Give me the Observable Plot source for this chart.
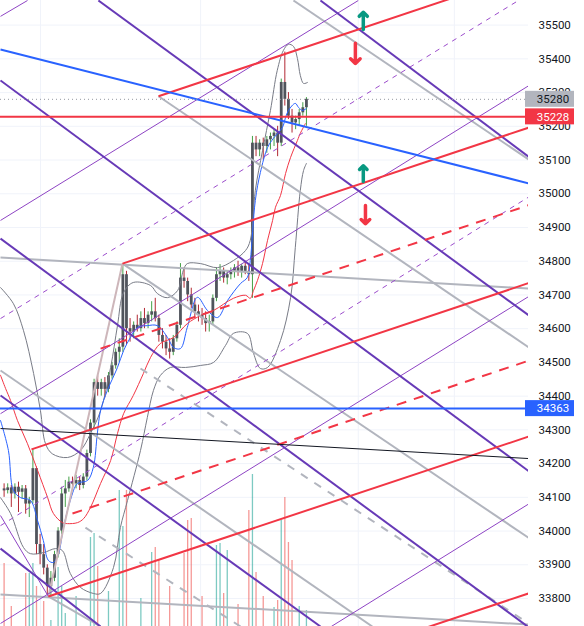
<!DOCTYPE html>
<html><head><meta charset="utf-8">
<script src="https://cdn.jsdelivr.net/npm/d3@7"></script>
<script src="https://cdn.jsdelivr.net/npm/@observablehq/plot@0.6"></script>
<style>body{margin:0;background:#fff;overflow:hidden} #chart svg{display:block}</style>
</head><body><div id="chart"></div>
<script>
// ---------- candles (bar index i -> x = i + 1) ----------
const open  = [34125,34120,34128,34110,34130,34115,34125,34080,34090,34185,33960,33930,33890,33835,33860,33930,34000,34110,34125,34145,34140,34150,34135,34160,34230,34320,34440,34420,34440,34420,34460,34490,34530,34545,34760,34600,34590,34610,34600,34630,34615,34640,34650,34630,34580,34560,34540,34530,34570,34610,34750,34740,34700,34670,34650,34640,34630,34615,34620,34690,34760,34770,34750,34760,34770,34780,34770,34785,34770,34760,35150,35130,35150,35140,35160,35170,35180,35150,35330,35280,35230,35210,35220,35240,35255];
const high  = [34140,34140,34135,34140,34145,34135,34135,34100,34242,34190,33990,33960,33900,33880,33940,34010,34130,34150,34160,34160,34165,34160,34170,34240,34330,34450,34460,34450,34455,34470,34500,34540,34570,34793,34770,34630,34620,34640,34650,34660,34650,34680,34690,34640,34600,34580,34570,34580,34620,34793,34780,34750,34720,34690,34670,34660,34650,34640,34700,34780,34790,34780,34770,34780,34790,34800,34790,34800,34790,35170,35170,35160,35165,35170,35180,35190,35200,35340,35420,35300,35250,35230,35250,35270,35285];
const low   = [34100,34110,34070,34095,34055,34095,34050,34040,34080,33930,33900,33870,33810,33800,33850,33920,33990,34070,34115,34130,34125,34120,34125,34150,34220,34300,34400,34400,34395,34410,34450,34480,34500,34530,34550,34560,34570,34590,34590,34600,34600,34620,34620,34560,34540,34520,34510,34520,34560,34600,34720,34680,34660,34630,34620,34610,34590,34590,34610,34680,34740,34735,34730,34745,34750,34755,34750,34760,34740,34690,35110,35110,35100,35120,35130,35140,35110,35140,35260,35220,35180,35190,35200,35230,35200];
const close = [34120,34128,34110,34130,34115,34125,34080,34090,34185,33960,33930,33890,33835,33860,33930,34000,34110,34125,34145,34140,34150,34135,34160,34230,34320,34440,34420,34440,34420,34460,34490,34530,34545,34760,34600,34590,34610,34600,34630,34615,34640,34650,34630,34580,34560,34540,34530,34570,34610,34750,34740,34700,34670,34650,34640,34630,34615,34620,34690,34760,34770,34750,34760,34770,34780,34770,34785,34770,34760,35150,35130,35150,35140,35160,35170,35180,35150,35330,35280,35230,35210,35220,35240,35255,35280];
// volume (relative units), sparse: [bar index, volume]
const volume = [[0,63],[2,20],[6,53],[7,53],[8,63],[9,40],[11,25],[13,6],[15,59],[16,40],[17,13],[20,30],[24,89],[25,93],[26,60],[29,35],[32,136],[33,100],[34,136],[38,28],[41,74],[42,79],[43,66],[46,40],[50,73],[51,106],[52,108],[55,30],[59,81],[60,83],[61,33],[62,76],[65,22],[68,116],[69,152],[70,54],[72,30],[75,19],[76,26],[77,106],[78,129],[79,84],[80,66],[82,20],[84,16]];

// ---------- indicators: [bar, price] ----------
const bbUpper = [[0,34722],[3.6,34674],[6.4,34594],[9.2,34467],[11.1,34357],[12.5,34259],[14.4,34229],[18.6,34218],[22.2,34239],[25,34289],[27.8,34357],[30.6,34485],[32.5,34609],[34.2,34707],[36.9,34737],[41.7,34728],[43.6,34704],[46.4,34692],[49.2,34713],[50.8,34773],[51.9,34793],[55.6,34793],[60.3,34781],[64.7,34802],[68.1,34832],[69.4,34862],[70.8,35010],[72.8,35128],[75,35247],[76.9,35366],[78.6,35425],[80,35443],[81.4,35437],[82.5,35401],[83.3,35351],[84.2,35327],[85.3,35330]];
const bbLower = [[0,34099],[2.8,34052],[6.4,33951],[8.3,33933],[11.9,33936],[15.3,33948],[17.2,33942],[19.4,33874],[22.2,33833],[25.8,33815],[27.8,33815],[31.4,33892],[33.3,34010],[35.3,34091],[38.9,34239],[40.8,34337],[42.5,34417],[44.4,34461],[47.2,34485],[51.4,34485],[55.6,34491],[59.2,34500],[62.5,34550],[64.7,34586],[68.6,34586],[70.3,34527],[72.2,34482],[74.2,34485],[77.8,34565],[80.6,34692],[81.9,34840],[83.3,35010],[84.2,35069],[85,35090]];
const maFast = [[0,34328],[2.2,34239],[3.6,34120],[5.6,34099],[8.3,34091],[10.3,34031],[11.9,33972],[13.3,33913],[14.7,33907],[16.1,33933],[17.5,34010],[19.4,34091],[21.4,34141],[24.2,34150],[25.8,34189],[26.9,34289],[27.8,34357],[29.7,34417],[32.5,34485],[34.2,34535],[36.1,34574],[38.1,34604],[40.8,34609],[43.6,34609],[46.4,34574],[48.1,34544],[50,34541],[51.9,34604],[54.7,34693],[57.5,34654],[60.3,34633],[63.1,34684],[66.7,34734],[68.6,34752],[69.4,34802],[70.8,34980],[72.2,35063],[74.2,35137],[75.8,35164],[78.3,35196],[79.2,35226],[80,35247],[81.9,35268],[82.8,35256],[83.9,35247],[85,35253]];
const maSlow = [[0,34462],[1.4,34423],[2.8,34387],[4.7,34328],[7.5,34259],[10.3,34180],[13.1,34099],[14.7,34052],[17.2,34025],[18.6,34022],[21.4,34025],[23.1,34037],[25,34070],[27.8,34141],[30.6,34209],[32.5,34289],[34.2,34348],[36.9,34402],[39.7,34467],[41.7,34515],[44.4,34556],[48.1,34574],[51.9,34615],[55.6,34639],[59.2,34654],[64.7,34690],[68.1,34699],[69.4,34690],[70.3,34713],[71.4,34743],[72.8,34793],[74.2,34862],[75.6,34921],[76.4,34960],[77.8,34995],[79.2,35060],[80.6,35108],[82.5,35158],[83.3,35179],[84.7,35208]];

// ---------- drawings: [x1, price1, x2, price2] ----------
const redSolid = [[43.9,35289,146.7,35656],[33.9,34793,146.7,35196],[8.6,34242,146.7,34735],[13.3,33806,146.7,34280],[111.1,33688,146.7,33815]];
const redDashed = [[27.8,34541,146.7,34966],[20,34052,146.7,34505]];
const purpleThick = [[88.9,35573,146.7,35110],[27.2,35573,146.7,34640],[0,35336,146.7,34178],[0,34867,146.7,33715],[0,34402,88.9,33717],[0,33948,27.8,33717]];
const purpleThin = [[0,35526,7.5,35573],[0,34921,99.4,35573],[0,34348,146.7,35320],[0,33726,146.7,34695],[91.9,33717,146.7,34080],[0,34046,13.3,33806]];
const purpleDashed = [[0,34630,143.9,35573],[0,34016,146.7,34990]];
const grayThick = [[81.4,35573,146.7,35102],[43.9,35289,146.7,34545],[33.9,34793,146.7,33980],[0,34476,103.3,33717],[0,34811,146.7,34719],[0,33812,146.7,33723],[13.3,33806,27.8,33717]];
const grayDashed = [[38.9,34482,146.7,33726],[23.6,34010,66.7,33717]];
const handle = [[13.3,33806,33.9,34793]];
const blueTrend = [[0,35428,146.7,35031]];
const blackTrend = [[0,34304,146.7,34215]];
const hLevels = [{price:35228, color:"#f23645"},{price:34363, color:"#2962ff"}];
const lastPrice = 35280;
// arrows: [x, fromPrice, toPrice, color]
const arrows = [[100.8,35487,35538,"#089981"],[98.6,35446,35386,"#f23645"],[100.8,35036,35083,"#089981"],[101.4,34965,34911,"#f23645"]];
// price tags on the axis
const tags = [{price:35280,label:"35280",bg:"#b2b5be",fg:"#131722"},{price:35228,label:"35228",bg:"#f23645",fg:"#ffffff"},{price:34363,label:"34363",bg:"#2962ff",fg:"#ffffff"}];
const yTicks = d3.range(33800, 35501, 100);
const vGrid = [11.1, 55.6, 99.4, 126.1];

const XMAX = 146.7, YMIN = 33717, YMAX = 35573;
const candles = open.map((o,i)=>({x:i+1,o,h:high[i],l:low[i],c:close[i],up:close[i]>=o}));
const PX = (YMAX-YMIN)/626; // price per pixel (for volume pane)
const vols = volume.map(([i,v])=>({x:i+1, v, up: close[i]>=open[i]}));

const seg = (data, stroke, strokeWidth, dash) => Plot.link(data, {x1:d=>d[0], y1:d=>d[1], x2:d=>d[2], y2:d=>d[3], stroke, strokeWidth, strokeDasharray: dash, clip:true});

const chart = Plot.plot({
  width: 584, height: 626,
  marginLeft: 0, marginTop: 0, marginBottom: 0, marginRight: 56,
  x: {domain:[0, XMAX], axis: null},
  y: {domain:[YMIN, YMAX], axis: null},
  style: {fontFamily: "Roboto, 'Liberation Sans', sans-serif", fontSize: "11.5px", background: "#ffffff"},
  marks: [
    Plot.ruleY(yTicks, {stroke:"#f0f3fa", strokeWidth:1}),
    Plot.ruleX(vGrid, {stroke:"#f0f3fa", strokeWidth:1}),
    // volume
    Plot.ruleX(vols, {x:"x", y1: ()=>YMIN, y2: d=>YMIN + d.v*PX, stroke: d=>d.up ? "rgba(38,166,154,0.6)" : "rgba(239,83,80,0.6)", strokeWidth:1.3, clip:true}),
    // candles
    Plot.ruleX(candles, {x:"x", y1:"l", y2:"h", stroke:d=>d.up?"#43a047":"#b22833", strokeWidth:1}),
    Plot.ruleX(candles, {x:"x", y1:"o", y2:d=>Math.abs(d.c-d.o)<6 ? d.o+ (d.c>=d.o?6:-6) : d.c, stroke:"#50545c", strokeWidth:2.8}),
    // indicators
    Plot.line(bbUpper, {x:d=>d[0], y:d=>d[1], stroke:"#787b86", strokeWidth:1, curve:"catmull-rom"}),
    Plot.line(bbLower, {x:d=>d[0], y:d=>d[1], stroke:"#787b86", strokeWidth:1, curve:"catmull-rom"}),
    Plot.line(maFast, {x:d=>d[0], y:d=>d[1], stroke:"#2962ff", strokeWidth:1, curve:"catmull-rom"}),
    Plot.line(maSlow, {x:d=>d[0], y:d=>d[1], stroke:"#f23645", strokeWidth:1, curve:"catmull-rom"}),
    // drawings
    seg(grayThick, "#b2b5be", 2),
    seg(grayDashed, "#b2b5be", 2, "8,8"),
    seg(handle, "#cdb6ba", 2),
    seg(purpleThin, "#8e44c4", 1),
    seg(purpleDashed, "#9c4dcc", 1, "5,5"),
    seg(purpleThick, "#673ab7", 2),
    seg(redDashed, "#f23645", 2, "10,8"),
    seg(redSolid, "#f23645", 2),
    seg(blackTrend, "#131722", 1),
    seg(blueTrend, "#2962ff", 2),
    Plot.ruleY(hLevels, {y:"price", stroke:"color", strokeWidth:2}),
    Plot.ruleY([lastPrice], {stroke:"#9598a1", strokeWidth:1, strokeDasharray:"1,3"}),
    Plot.arrow(arrows, {x1:d=>d[0], y1:d=>d[1], x2:d=>d[0], y2:d=>d[2], stroke:d=>d[3], strokeWidth:3.5, headLength:10, headAngle:90}),
    // price axis
    Plot.axisY(yTicks, {anchor:"right", tickSize:0, tickPadding:10, tickFormat:d=>String(d), fill:"#131722", fontSize:11.5}),
    Plot.rect(tags, {x1:()=>XMAX, x2:()=>XMAX, y1:"price", y2:"price", fill:"bg", insetLeft:-3, insetRight:-46, insetTop:-8, insetBottom:-8}),
    Plot.text(tags, {x:()=>XMAX, y:"price", text:"label", fill:"fg", dx:24.5, textAnchor:"middle", fontSize:11.5})
  ]
});
document.getElementById("chart").appendChild(chart);
</script></body></html>
